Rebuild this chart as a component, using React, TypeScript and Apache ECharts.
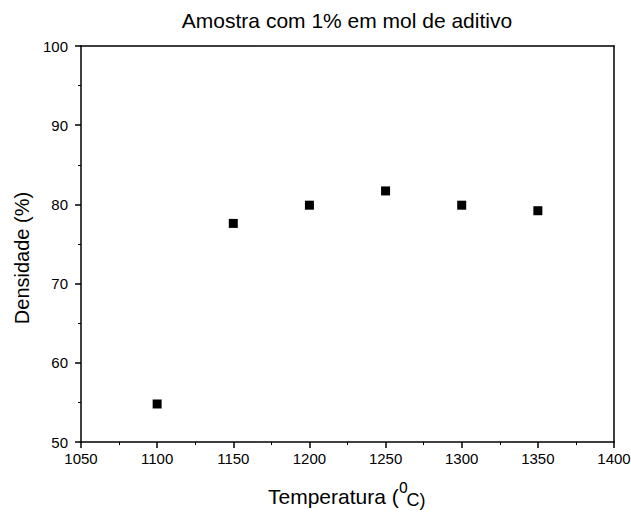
import React, { useEffect, useRef } from "react";
import * as echarts from "echarts";

const temperatures = [1100, 1150, 1200, 1250, 1300, 1350];
const density = [54.8, 77.6, 79.9, 81.7, 79.9, 79.2];
const titleText = "Amostra com 1% em mol de aditivo";
const yName = "Densidade (%)";
const xNameMain = "Temperatura (";
const xNameSup = "o";
const xNameEnd = "C)";

const FONT = "'Liberation Sans', Arial, Helvetica, sans-serif";

export default function App() {
  const ref = useRef<HTMLDivElement>(null);
  useEffect(() => {
    if (!ref.current) return;
    const chart = echarts.init(ref.current, undefined, { renderer: "svg" });
    const lineStyle = { color: "#000", width: 1.5 };
    const plain = (v: number) => String(v);
    chart.setOption({
      animation: false,
      backgroundColor: "#fff",
      grid: { left: 81, right: 17, top: 46, bottom: 70, outerBoundsMode: "none", containLabel: false },
      xAxis: [
        {
          type: "value",
          position: "bottom",
          min: 1050,
          max: 1400,
          interval: 50,
          axisLine: { show: true, onZero: false, lineStyle },
          axisTick: { show: true, inside: false, length: 6, lineStyle },
          minorTick: { show: true, splitNumber: 2, length: 3, lineStyle: { color: "#000", width: 1 } },
          splitLine: { show: false },
          axisLabel: { color: "#000", fontSize: 15, fontFamily: FONT, margin: 9, formatter: plain },
        },
        {
          type: "value",
          position: "top",
          min: 1050,
          max: 1400,
          interval: 50,
          axisLine: { show: true, onZero: false, lineStyle },
          axisTick: { show: false },
          splitLine: { show: false },
          axisLabel: { show: false },
        },
      ],
      yAxis: [
        {
          type: "value",
          position: "left",
          min: 50,
          max: 100,
          interval: 10,
          axisLine: { show: true, onZero: false, lineStyle },
          axisTick: { show: true, inside: false, length: 6, lineStyle },
          minorTick: { show: true, splitNumber: 2, length: 3, lineStyle: { color: "#000", width: 1 } },
          splitLine: { show: false },
          axisLabel: { color: "#000", fontSize: 15, fontFamily: FONT, margin: 13, formatter: plain },
        },
        {
          type: "value",
          position: "right",
          min: 50,
          max: 100,
          interval: 10,
          axisLine: { show: true, onZero: false, lineStyle },
          axisTick: { show: false },
          splitLine: { show: false },
          axisLabel: { show: false },
        },
      ],
      series: [
        {
          type: "scatter",
          xAxisIndex: 0,
          yAxisIndex: 0,
          symbol: "rect",
          symbolSize: 9,
          itemStyle: { color: "#000", opacity: 1 },
          data: temperatures.map((t, i) => [t, density[i]]),
        },
      ],
      graphic: [
        {
          type: "text",
          x: 347,
          y: 20,
          style: {
            text: titleText,
            fontSize: 21,
            fontFamily: FONT,
            fill: "#000",
            align: "center",
            verticalAlign: "middle",
          },
        },
        {
          type: "text",
          x: 22,
          y: 258,
          rotation: Math.PI / 2,
          style: {
            text: yName,
            fontSize: 20,
            fontFamily: FONT,
            fill: "#000",
            align: "center",
            verticalAlign: "middle",
          },
        },
        {
          type: "text",
          x: 268,
          y: 507,
          style: {
            text: xNameMain,
            fontSize: 21,
            fontFamily: FONT,
            fill: "#000",
            align: "left",
            verticalAlign: "bottom",
          },
        },
        {
          type: "text",
          x: 399,
          y: 496,
          scaleX: 0.75,
          style: {
            text: xNameSup,
            fontSize: 21,
            fontFamily: FONT,
            fill: "#000",
            align: "left",
            verticalAlign: "bottom",
          },
        },
        {
          type: "text",
          x: 406.5,
          y: 509,
          style: {
            text: xNameEnd,
            fontSize: 18,
            fontFamily: FONT,
            fill: "#000",
            align: "left",
            verticalAlign: "bottom",
          },
        },
      ],
    });
    return () => chart.dispose();
  }, []);
  return (
    <div
      ref={ref}
      style={{ position: "fixed", left: 0, top: 0, width: 631, height: 512 }}
    />
  );
}
